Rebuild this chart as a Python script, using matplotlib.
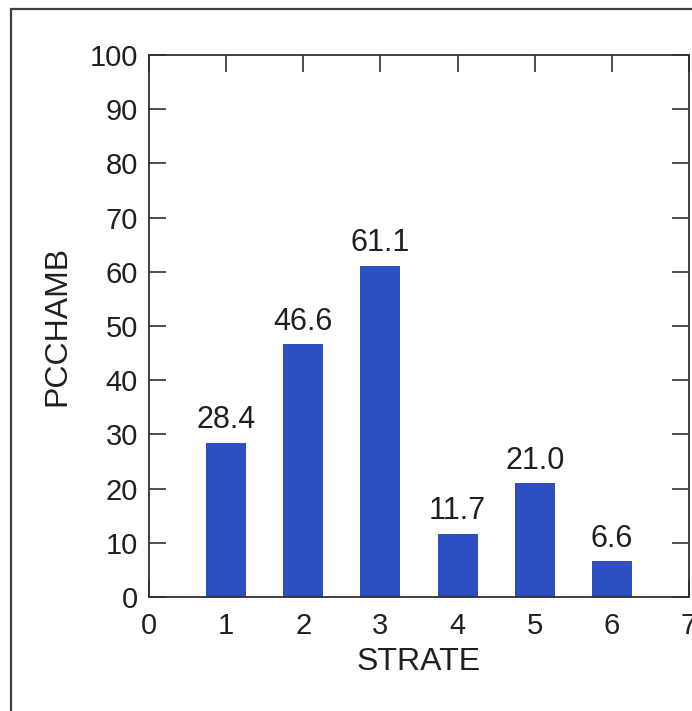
import matplotlib
matplotlib.use("Agg")
import matplotlib.pyplot as plt
from matplotlib.patches import Rectangle

strate = [1, 2, 3, 4, 5, 6]
pcchamb = [28.4, 46.6, 61.1, 11.7, 21.0, 6.6]
value_labels = ["28.4", "46.6", "61.1", "11.7", "21.0", "6.6"]

plt.rcParams['font.family'] = ['Liberation Sans', 'DejaVu Sans']

W, H = 692, 711
fig = plt.figure(figsize=(W / 100, H / 100), dpi=100)
fig.patch.set_facecolor('white')

# outer frame, runs off the right and bottom edges
fig.add_artist(Rectangle((11 / W, -0.1), 1.2, 1 - 9 / H + 0.1,
                         transform=fig.transFigure, fill=False,
                         edgecolor='#404040', linewidth=1.6))

ax = fig.add_axes([149 / W, 1 - 597 / H, (689 - 149) / W, (597 - 55) / H])
ax.set_axisbelow(True)  # bars cover the bottom ticks
ax.bar(strate, pcchamb, width=0.52, color='#2e4fc2', edgecolor='none')

for x, v, s in zip(strate, pcchamb, value_labels):
    ax.text(x, v + 2.7, s, ha='center', va='baseline', fontsize=22, color='#202020')

ax.set_xlim(0, 7)
ax.set_ylim(0, 100)
ax.set_xticks(range(0, 8))
ax.set_yticks(range(0, 101, 10))
ax.tick_params(direction='in', length=12, width=1.2, labelsize=21,
               top=True, right=True, colors='#303030', labelcolor='#202020')
ax.tick_params(axis='y', pad=8)
ax.tick_params(axis='x', pad=11)
for sp in ax.spines.values():
    sp.set_linewidth(1.3)
    sp.set_color('#303030')
    sp.set_zorder(3)

ax.set_xlabel('STRATE', fontsize=23, color='#202020', labelpad=5)
ax.set_ylabel('PCCHAMB', fontsize=23, color='#202020', labelpad=12)

fig.savefig('out.png', dpi=100)
